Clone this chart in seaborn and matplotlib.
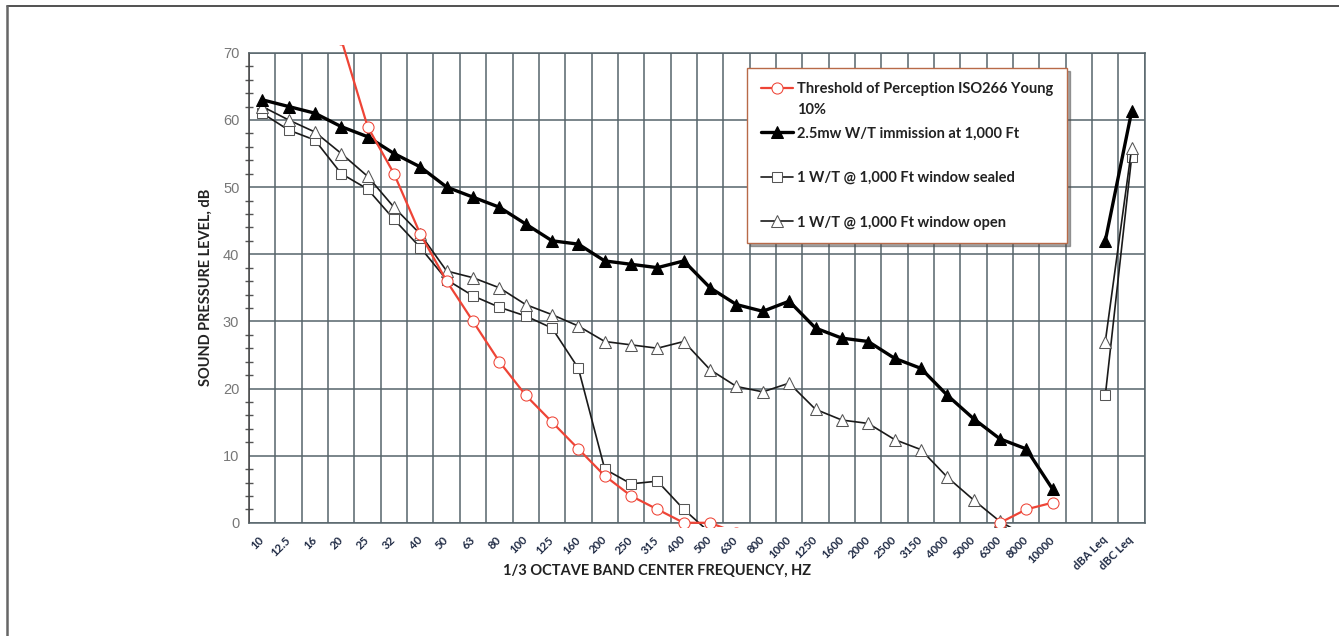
import numpy as np
import pandas as pd
import matplotlib
matplotlib.use("Agg")
import matplotlib.pyplot as plt
import seaborn as sns
from matplotlib.lines import Line2D
from matplotlib.transforms import Bbox, TransformedBbox

nan = np.nan

# 1/3 octave band categories (plus one empty slot before the Leq values)
bands = ['10', '12.5', '16', '20', '25', '32', '40', '50', '63', '80', '100', '125',
         '160', '200', '250', '315', '400', '500', '630', '800', '1000', '1250', '1600',
         '2000', '2500', '3150', '4000', '5000', '6300', '8000', '10000', '',
         'dBA Leq', 'dBC Leq']

threshold = [nan, nan, nan, 72, 59, 52, 43, 36, 30, 24, 19, 15, 11, 7, 4, 2, 0, 0,
             -1.5, -4, -5, -6, -7, -7, -7, -6, -5, -4, 0, 2, 3, nan, nan, nan]
turbine_25 = [63, 62, 61, 59, 57.5, 55, 53, 50, 48.5, 47, 44.5, 42, 41.5, 39, 38.5, 38,
              39, 35, 32.5, 31.5, 33, 29, 27.5, 27, 24.5, 23, 19, 15.5, 12.5, 11, 5, nan,
              42, 61.3]
sealed = [61, 58.5, 57, 52, 49.7, 45.2, 41, 36.2, 33.8, 32.1, 30.8, 29, 23, 8, 5.8, 6.2,
          2, -1.5, nan, nan, nan, nan, nan, nan, nan, nan, nan, nan, nan, nan, nan, nan,
          19, 54.5]
window_open = [62, 60, 58.2, 55, 51.6, 47, 43, 37.5, 36.5, 35, 32.5, 31, 29.3, 27, 26.5,
               26, 27, 22.8, 20.3, 19.5, 20.8, 16.9, 15.3, 14.8, 12.4, 10.9, 6.8, 3.4, 0.2,
               -2, -4, nan, 27, 55.8]

labels = ['Threshold of Perception ISO266 Young',
          '2.5mw W/T immission at 1,000 Ft',
          '1 W/T @ 1,000 Ft window sealed',
          '1 W/T @ 1,000 Ft window open']
label_extra = '10%'

sns.set_style("white")
plt.rcParams['font.family'] = ['Lato', 'DejaVu Sans']

fig, ax = plt.subplots(figsize=(13.39, 6.36), dpi=100)
fig.subplots_adjust(left=0.186, right=0.855, bottom=0.178, top=0.917)

idx = np.arange(len(bands))
styles = [
    dict(color='#ee4436', marker='o', markersize=8, markerfacecolor='white',
         markeredgecolor='#ee4436', linewidth=1.6, zorder=6),
    dict(color='black', marker='^', markersize=9, markerfacecolor='black',
         markeredgecolor='black', linewidth=2.4, zorder=5),
    dict(color='#1a1a1a', marker='s', markersize=7.5, markerfacecolor='white',
         markeredgecolor='#555555', linewidth=1.2, zorder=4),
    dict(color='#1a1a1a', marker='^', markersize=8, markerfacecolor='white',
         markeredgecolor='#555555', linewidth=1.2, zorder=4),
]
series = [threshold, turbine_25, sealed, window_open]

for vals, lab, st in zip(series, labels, styles):
    df = pd.DataFrame({'x': idx, 'y': vals})
    main = df[df.x <= 30].dropna()
    leq = df[df.x >= 32].dropna()
    sns.lineplot(data=main, x='x', y='y', ax=ax, label=lab, sort=False,
                 estimator=None, **st)
    sns.lineplot(data=leq, x='x', y='y', ax=ax, sort=False, estimator=None, **st)

# clip a little outside the axes like the spreadsheet plot area
clip = TransformedBbox(Bbox([[0, -0.009], [1, 1.016]]), ax.transAxes)
for ln in ax.lines:
    ln.set_clip_box(clip)

ax.set_xlim(-0.5, len(bands) - 0.5)
ax.set_ylim(0, 70)

ax.set_xticks(idx)
ax.set_xticklabels(bands, rotation=45, ha='right', va='center', rotation_mode='anchor',
                   fontsize=8.2, fontweight='bold', color='#1f2a44')
ax.set_xticks(np.arange(-0.5, len(bands), 1), minor=True)
ax.tick_params(axis='x', which='both', length=0, pad=11)

ax.set_yticks(np.arange(0, 71, 10))
ax.set_yticks(np.arange(0, 71, 2), minor=True)
ax.tick_params(axis='y', which='major', direction='inout', length=8, width=1,
               color='#555555', pad=3, labelsize=10.5, labelcolor='#777777')
ax.tick_params(axis='y', which='minor', direction='inout', length=6, width=1,
               color='#555555', left=True)
for t in ax.get_yticklabels():
    t.set_fontfamily(['Liberation Sans', 'DejaVu Sans'])

ax.grid(True, which='major', axis='y', color='#56646b', linewidth=1.1)
ax.grid(True, which='minor', axis='x', color='#56646b', linewidth=1.1)
ax.grid(False, which='major', axis='x')
ax.set_axisbelow(True)
for s in ax.spines.values():
    s.set_color('#56646b')
    s.set_linewidth(1.1)
ax.spines['left'].set_color('#444444')

ax.set_ylabel('SOUND PRESSURE LEVEL, dB', fontsize=10.5, fontweight='bold', color='#222222')
ax.yaxis.set_label_coords(-0.040, 0.5)
ax.set_xlabel('1/3 OCTAVE BAND CENTER FREQUENCY, HZ', fontsize=10.5, fontweight='bold',
              color='#222222')
ax.xaxis.set_label_coords(0.456, -0.088)

handles, labs = ax.get_legend_handles_labels()
leg = ax.legend(handles, labs, loc='upper left', bbox_to_anchor=(0.556, 0.968),
                borderaxespad=0, frameon=True, fancybox=False, shadow=True,
                edgecolor='#b86a48', framealpha=1, labelspacing=2.1, handlelength=2.2,
                handletextpad=0.25, borderpad=0.95,
                prop={'family': ['Lato', 'DejaVu Sans'], 'weight': 'bold', 'size': 10.5})
for t in leg.get_texts():
    t.set_color('#222222')
leg.set_zorder(10)

# second line of the first legend label, placed just under it
ax.annotate(label_extra, xy=(0, 0), xycoords=leg.get_texts()[0], xytext=(0, -15),
            textcoords='offset points', ha='left', va='bottom', fontsize=10.5,
            fontweight='bold', color='#222222', zorder=11)

# outer frame (top and left edges)
fig.add_artist(Line2D([7 / 1339, 1], [1 - 6 / 636, 1 - 6 / 636], transform=fig.transFigure,
                      color='#333333', linewidth=1.2))
fig.add_artist(Line2D([7 / 1339, 7 / 1339], [0, 1 - 6 / 636], transform=fig.transFigure,
                      color='#666666', linewidth=1.8))

fig.savefig('out.png', dpi=100)
